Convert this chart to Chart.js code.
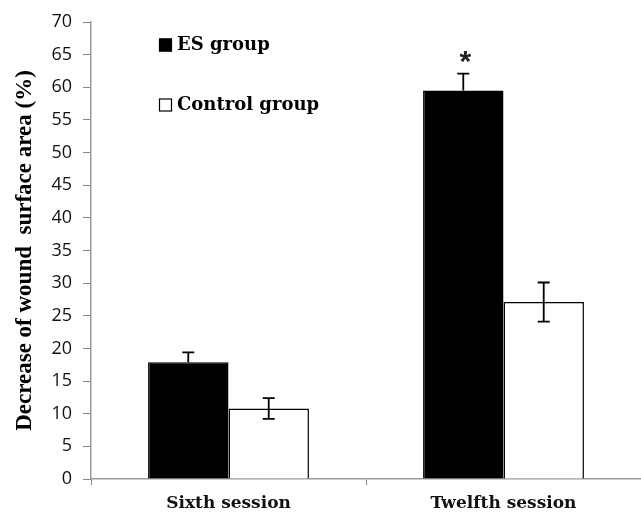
<!DOCTYPE html>
<html>
<head>
<meta charset="utf-8">
<script src="https://cdn.jsdelivr.net/npm/chart.js@4.4.0/dist/chart.umd.min.js"></script>
<style>
html,body{margin:0;padding:0;background:#fff;}
#wrap{width:641px;height:514px;position:relative;}
</style>
</head>
<body>
<div id="wrap"><canvas id="c" width="641" height="514"></canvas></div>
<script>
const categories = ["Sixth session", "Twelfth session"];
const esValues = [17.9, 59.5];
const esErrors = [1.5, 2.6];
const controlValues = [10.8, 27.1];
const controlErrors = [1.6, 3.0];
const yTicks = [0, 5, 10, 15, 20, 25, 30, 35, 40, 45, 50, 55, 60, 65, 70];
const significance = ["", "*"];

const serif = '"DejaVu Serif", "Liberation Serif", serif';
const titleSerif = '"Liberation Serif", serif';

const errorBarPlugin = {
  id: 'errorBars',
  afterDatasetsDraw(chart) {
    const ctx = chart.ctx;
    const y = chart.scales.y;
    chart.data.datasets.forEach((ds, di) => {
      const meta = chart.getDatasetMeta(di);
      meta.data.forEach((bar, i) => {
        const v = ds.data[i], e = ds.errors[i];
        const x = bar.x;
        const yt = y.getPixelForValue(v + e);
        const yb = y.getPixelForValue(v - e);
        ctx.save();
        ctx.strokeStyle = '#000';
        ctx.lineWidth = 1.8;
        ctx.beginPath();
        ctx.moveTo(x, yt); ctx.lineTo(x, ds.errorDown ? yb : y.getPixelForValue(v));
        ctx.moveTo(x - 6, yt); ctx.lineTo(x + 6, yt);
        if (ds.errorDown) { ctx.moveTo(x - 6, yb); ctx.lineTo(x + 6, yb); }
        ctx.stroke();
        ctx.restore();
        if (di === 0 && significance[i]) {
          ctx.save();
          ctx.fillStyle = '#222';
          ctx.font = 'bold 30px "Liberation Sans", sans-serif';
          ctx.textAlign = 'center';
          ctx.textBaseline = 'middle';
          ctx.fillText(significance[i], x + 2, yt - 11);
          ctx.restore();
        }
      });
    });
  }
};

const legendPlugin = {
  id: 'customLegend',
  afterDraw(chart) {
    const ctx = chart.ctx;
    const items = chart.data.datasets;
    const x0 = 159, ys = [45, 105];
    items.forEach((ds, i) => {
      ctx.save();
      ctx.fillStyle = ds.backgroundColor;
      ctx.fillRect(x0, ys[i] - 6.5, 13, 13);
      ctx.strokeStyle = '#000';
      ctx.lineWidth = 1.2;
      ctx.strokeRect(x0 + 0.5, ys[i] - 6, 12, 12);
      ctx.fillStyle = '#000';
      ctx.font = 'bold 18px ' + serif;
      ctx.textAlign = 'left';
      ctx.textBaseline = 'middle';
      ctx.fillText(ds.label, x0 + 18, ys[i]);
      ctx.restore();
    });
  }
};

new Chart(document.getElementById('c'), {
  type: 'bar',
  data: {
    labels: categories,
    datasets: [
      { label: 'ES group', data: esValues, errors: esErrors, errorDown: false,
        backgroundColor: '#000', borderColor: '#000', borderWidth: 1.5 },
      { label: 'Control group', data: controlValues, errors: controlErrors, errorDown: true,
        backgroundColor: '#fff', borderColor: '#000', borderWidth: 1.5 }
    ]
  },
  plugins: [errorBarPlugin, legendPlugin],
  options: {
    responsive: false,
    animation: false,
    layout: { padding: { top: 22, right: 0, left: 0, bottom: 0 } },
    datasets: { bar: { barPercentage: 1.0, categoryPercentage: 0.585 } },
    plugins: { legend: { display: false }, tooltip: { enabled: false } },
    scales: {
      x: {
        afterFit(s) { s.height = 35; },
        grid: { display: true, offset: true, drawOnChartArea: false, drawTicks: true, tickLength: 6, color: '#888' },
        border: { color: '#999', width: 1.5 },
        ticks: { color: '#111', font: { family: serif, size: 17, weight: 'bold' }, padding: 8 }
      },
      y: {
        min: 0, max: 70,
        afterFit(s) { s.width = 91; },
        afterBuildTicks(s) { s.ticks = yTicks.map(v => ({ value: v })); },
        grid: { display: true, drawOnChartArea: false, drawTicks: true, tickLength: 8, color: '#888' },
        border: { color: '#999', width: 1.5 },
        ticks: { color: '#111', font: { family: '"Open Sans", sans-serif', size: 18 }, padding: 11 },
        title: { display: true, text: 'Decrease of wound  surface area (%)', color: '#000',
          font: { family: titleSerif, size: 23, weight: 'bold' }, padding: { top: 11, bottom: 0 } }
      }
    }
  }
});
</script>
</body>
</html>
